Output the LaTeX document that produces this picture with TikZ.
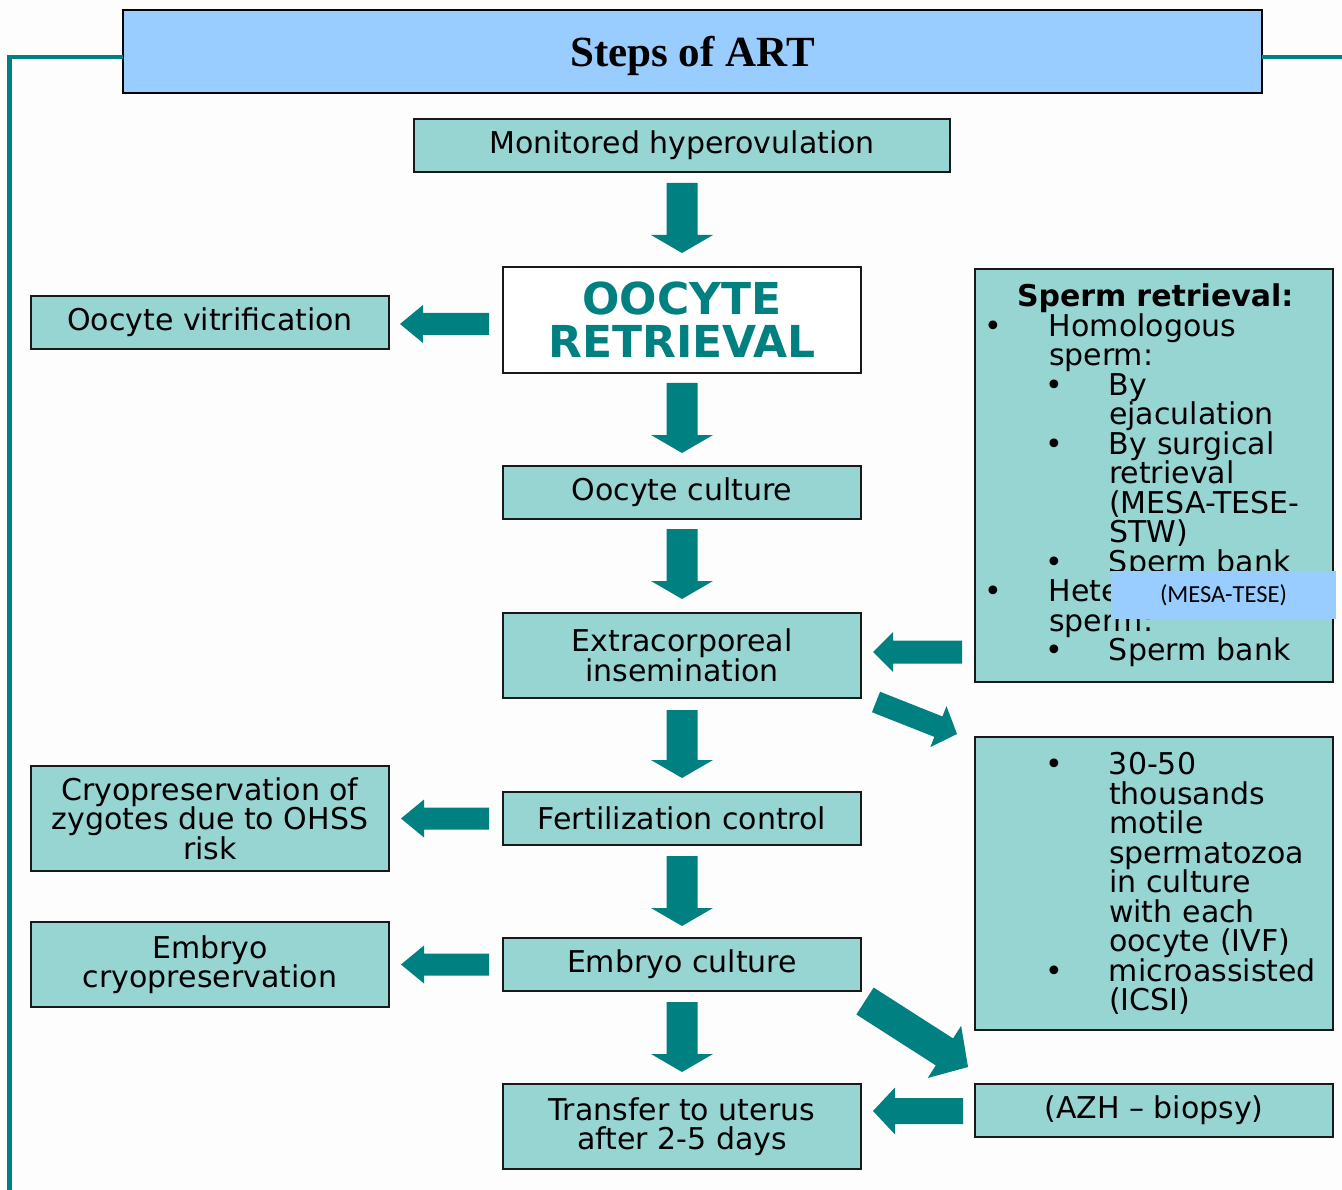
\documentclass[tikz,border=0pt]{standalone}
\usepackage{fontspec}
\setmainfont{DejaVu Sans}
\newfontfamily\titlefont{Liberation Serif}
\newfontfamily\calibfont{Carlito}
\usetikzlibrary{calc}
\definecolor{boxfill}{RGB}{151,213,211}
\definecolor{tealc}{RGB}{0,128,128}
\definecolor{titlefill}{RGB}{153,204,255}
\definecolor{pagebg}{RGB}{253,253,253}
\definecolor{edge}{RGB}{25,25,25}
% list helpers (1px = 1pt)
\newcommand\bi[1]{\makebox[74pt][l]{\hspace*{9pt}•}#1}
\newcommand\ci[1]{\hspace*{74pt}#1}
\newcommand\bii[1]{\makebox[134pt][l]{\hspace*{70pt}•}#1}
\newcommand\cii[1]{\hspace*{134pt}#1}
% block arrow: tail, tip, shaft half width, head half width, head length
\newcommand\blockarrow[5]{%
  \coordinate (tmpH) at ($(#2)!#5!(#1)$);
  \fill[tealc] ($(#1)!#3!90:(#2)$) -- ($(tmpH)!#3!90:(#2)$) -- ($(tmpH)!#4!90:(#2)$)
    -- (#2) -- ($(tmpH)!#4!-90:(#2)$) -- ($(tmpH)!#3!-90:(#2)$) -- ($(#1)!#3!-90:(#2)$) -- cycle;}
\begin{document}
\begin{tikzpicture}[x=1pt,y=-1pt,
  box/.style={draw=edge, line width=2pt, fill=boxfill, inner sep=0pt, outer sep=0pt,
    align=center, minimum width=358pt, font=\fontsize{30}{29.5}\selectfont},
  listbox/.style={box, align=left, text width=358pt},
  frame/.style={draw=tealc, line width=4.5pt}]
\useasboundingbox (0,0) rectangle (1342,1190);
\fill[pagebg] (0,0) rectangle (1342,1190);

% title
\node[draw=black, line width=2.5pt, fill=titlefill, inner sep=0pt, outer sep=0pt,
  minimum width=1139pt, minimum height=83pt, text height=35pt, text depth=5.5pt,
  font=\titlefont\bfseries\fontsize{43}{43}\selectfont] (title) at (692.5,51.5) {Steps of ART};
\draw[frame] (9.5,1195) |- ($(title.west)+(0,5.5)$);
\draw[frame] ($(title.east)+(0,5.5)$) -- (1345,57);

% central column
\node[box, minimum width=536pt, minimum height=53pt] (mon) at (682,145.5) {Monitored hyperovulation};
\node[box, fill=white, minimum height=106pt, text=tealc,
  font=\bfseries\fontsize{44}{43}\selectfont] (ret) at (682,320) {OOCYTE\\RETRIEVAL};
\node[box, minimum height=53pt] (oc) at (682,492.5) {Oocyte culture};
\node[box, minimum height=85pt] (ext) at (682,655.5) {Extracorporeal\\insemination};
\node[box, minimum height=53pt] (fert) at (682,818.5) {Fertilization control};
\node[box, minimum height=53pt] (emb) at (682,964.5) {Embryo culture};
\node[box, minimum height=85pt] (tr) at (682,1126.5) {Transfer to uterus\\after 2-5 days};

% left column
\node[box, minimum height=53pt] (vit) at (210,322.5) {Oocyte vitrification};
\node[box, minimum height=105pt] (cz) at (210,818.5) {Cryopreservation of\\zygotes due to OHSS\\risk};
\node[box, minimum height=85pt] (ec) at (210,964.5) {Embryo\\cryopreservation};

% right column
\node[listbox, minimum height=413pt] (sr) at (1154,475.5) {%
\hspace*{42pt}\textbf{Sperm retrieval:}\\
\bi{Homologous}\\
\ci{sperm:}\\
\bii{By}\\
\cii{ejaculation}\\
\bii{By surgical}\\
\cii{retrieval}\\
\cii{(MESA-TESE-}\\
\cii{STW)}\\
\bii{Sperm bank}\\
\bi{Heterologous}\\
\ci{sperm:}\\
\bii{Sperm bank}};
\node[fill=titlefill, inner sep=0pt, outer sep=0pt, minimum width=225pt, minimum height=48pt,
  font=\calibfont\fontsize{24.5}{24.5}\selectfont] (mesa) at (1223.5,595) {(MESA-TESE)};
\node[listbox, minimum height=293pt] (sp2) at (1154,883.5) {%
\bii{30-50}\\
\cii{thousands}\\
\cii{motile}\\
\cii{spermatozoa}\\
\cii{in culture}\\
\cii{with each}\\
\cii{oocyte (IVF)}\\
\bii{microassisted}\\
\cii{(ICSI)}};
\node[box, minimum height=53pt] (azh) at (1154,1110.5) {(AZH – biopsy)};

% down arrows
\coordinate (d1s) at ($(mon.south)+(0,11)$);  \coordinate (d1e) at ($(ret.north)+(0,-14)$);
\coordinate (d2s) at ($(ret.south)+(0,10)$);  \coordinate (d2e) at ($(oc.north)+(0,-13)$);
\coordinate (d3s) at ($(oc.south)+(0,10)$);   \coordinate (d3e) at ($(ext.north)+(0,-14)$);
\coordinate (d4s) at ($(ext.south)+(0,12)$);  \coordinate (d4e) at ($(fert.north)+(0,-14)$);
\coordinate (d5s) at ($(fert.south)+(0,11)$); \coordinate (d5e) at ($(emb.north)+(0,-12)$);
\coordinate (d6s) at ($(emb.south)+(0,11)$);  \coordinate (d6e) at ($(tr.north)+(0,-12)$);
\foreach \i in {1,...,6}{\blockarrow{d\i s}{d\i e}{15.5pt}{31pt}{18pt}}

% left arrows
\coordinate (l1s) at ($(ret.west)+(-14,4)$);  \coordinate (l1e) at ($(vit.east |- l1s)+(11,0)$);
\coordinate (l2s) at ($(fert.west)+(-14,0)$); \coordinate (l2e) at ($(cz.east |- l2s)+(12,0)$);
\coordinate (l3s) at ($(emb.west)+(-14,0)$);  \coordinate (l3e) at ($(ec.east |- l3s)+(12,0)$);
\blockarrow{l1s}{l1e}{11pt}{19pt}{23pt}
\blockarrow{l2s}{l2e}{11pt}{19pt}{23pt}
\blockarrow{l3s}{l3e}{11pt}{19pt}{23pt}

% right-hand arrows
\coordinate (r4s) at ($(sr.west |- ext)+(-13,-3.5)$); \coordinate (r4e) at ($(ext.east)+(12,-3.5)$);
\coordinate (r5s) at ($(azh.west)+(-12,0.5)$);       \coordinate (r5e) at ($(tr.east |- r5s)+(12,0)$);
\blockarrow{r4s}{r4e}{11.5pt}{20pt}{20pt}
\blockarrow{r5s}{r5e}{13pt}{23.5pt}{22pt}

% diagonal arrows
\coordinate (g1s) at ($(ext.south east)+(15,4)$); \coordinate (g1e) at ($(sp2.north west)+(-18,-3)$);
\coordinate (g2s) at ($(emb.south east)+(4,10)$); \coordinate (g2e) at ($(azh.north west)+(-7,-17)$);
\blockarrow{g1s}{g1e}{11pt}{22pt}{20pt}
\blockarrow{g2s}{g2e}{16pt}{31pt}{28pt}
\end{tikzpicture}
\end{document}
